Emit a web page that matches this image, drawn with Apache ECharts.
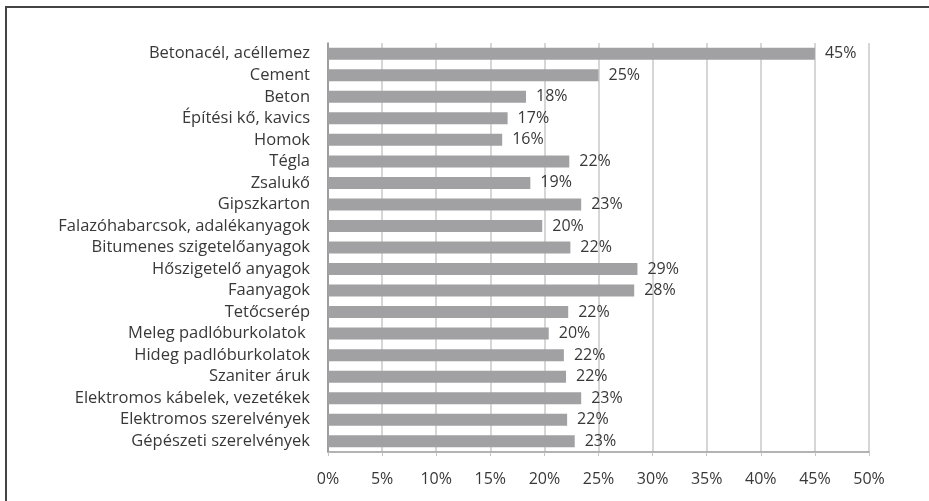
<!DOCTYPE html>
<html>
<head>
<meta charset="utf-8">
<script src="https://cdn.jsdelivr.net/npm/echarts@6/dist/echarts.min.js"></script>
<style>
	html, body { margin: 0; padding: 0; background: #fff; }
	#frame { position: absolute; left: 5px; top: 6px; width: 940px; height: 520px; border-top: 2px solid #444; border-left: 2px solid #444; }
	#chart { position: absolute; left: 0; top: 0; width: 929px; height: 501px; }
</style>
</head>
<body>
<div id="frame"></div>
<div id="chart"></div>
<script>
const categories = [
	"Betonacél, acéllemez",
	"Cement",
	"Beton",
	"Építési kő, kavics",
	"Homok",
	"Tégla",
	"Zsalukő",
	"Gipszkarton",
	"Falazóhabarcsok, adalékanyagok",
	"Bitumenes szigetelőanyagok",
	"Hőszigetelő anyagok",
	"Faanyagok",
	"Tetőcserép",
	"Meleg padlóburkolatok ",
	"Hideg padlóburkolatok",
	"Szaniter áruk",
	"Elektromos kábelek, vezetékek",
	"Elektromos szerelvények",
	"Gépészeti szerelvények",
]

const values = [45.0, 25.0, 18.3, 16.6, 16.1, 22.3, 18.7, 23.4, 19.8, 22.4, 28.6, 28.3, 22.2, 20.4, 21.8, 22.0, 23.4, 22.1, 22.8]

const xTicks = [0, 5, 10, 15, 20, 25, 30, 35, 40, 45, 50]

const font = "'Open Sans', sans-serif"
const chart = echarts.init(document.getElementById("chart"))

let options = {
	animation: false,
	grid: {
		top: 43,
		right: 60,
		bottom: 49,
		left: 328,
	},
	xAxis: {
		type: "value",
		min: xTicks[0],
		max: xTicks[xTicks.length - 1],
		interval: xTicks[1] - xTicks[0],
		axisLine: { show: true, lineStyle: { color: "#9a9a9a", width: 1.5 } },
		axisTick: { show: true, length: 4, lineStyle: { color: "#c4c4c4" } },
		splitLine: { show: true, lineStyle: { color: "#c8c8c8", width: 1.5 } },
		axisLabel: {
			formatter: "{value}%",
			color: "#383838",
			fontFamily: font,
			fontSize: 16,
			margin: 19,
		},
	},
	yAxis: {
		type: "category",
		inverse: true,
		data: categories,
		axisLine: { show: true, lineStyle: { color: "#8a8a8a", width: 1.5 } },
		axisTick: { show: false },
		axisLabel: {
			interval: 0,
			color: "#383838",
			fontFamily: font,
			fontSize: 16.5,
			margin: 18,
		},
	},
	series: [
		{
			type: "bar",
			data: values,
			barWidth: 12,
			itemStyle: { color: "#a1a1a3" },
			label: {
				show: true,
				position: "right",
				distance: 10,
				color: "#383838",
				fontFamily: font,
				fontSize: 16,
				formatter: (p) => Math.round(p.value) + "%",
			},
		},
	],
}

chart.setOption(options)
</script>
</body>
</html>
